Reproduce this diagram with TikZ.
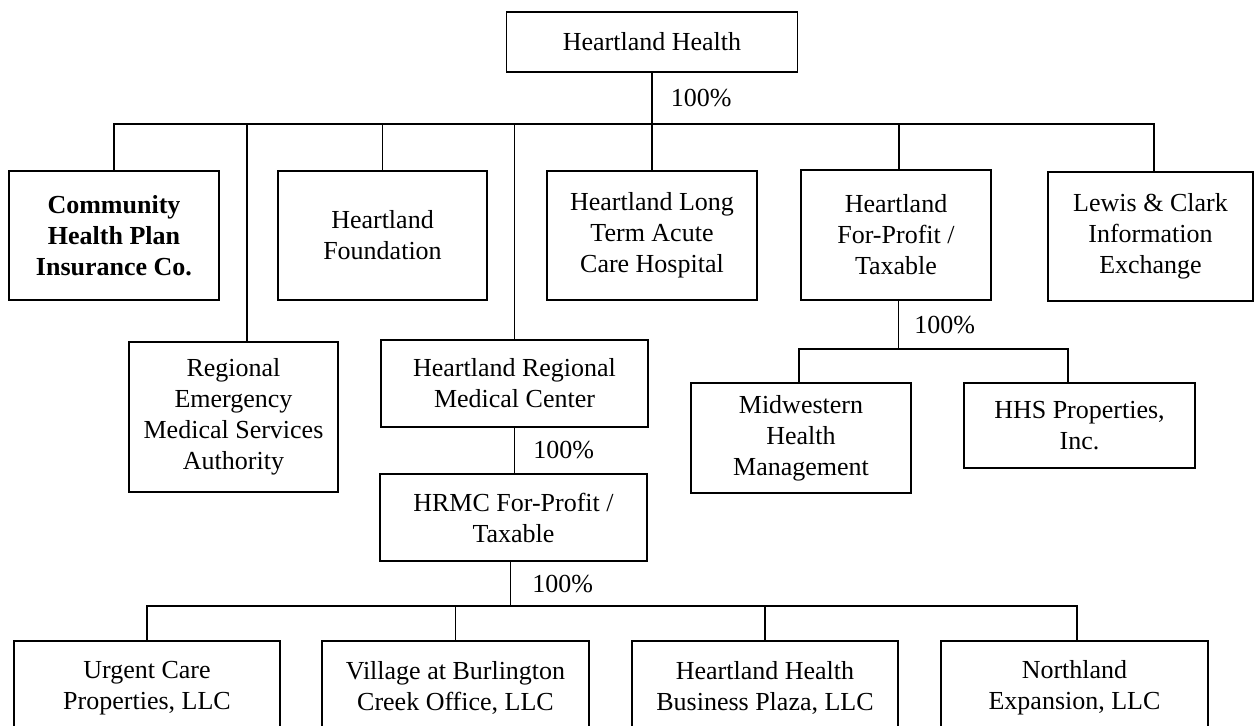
\documentclass[tikz,border=0pt]{standalone}
\usepackage{fontspec}
\setmainfont{Liberation Serif}

\begin{document}
\begin{tikzpicture}
[x=.5pt,y=-.5pt,
unit/.style={shape=rectangle,draw=black,line width=.8pt,align=center,inner sep=2pt,
  font=\fontsize{13}{15.5}\selectfont},
own/.style={line width=.75pt},
pct/.style={anchor=west,xshift=9pt,inner sep=0pt,font=\fontsize{13}{15.5}\selectfont}]
\clip (0,0) rectangle (1254,725);
%%
% Heartland Health and its direct holdings
%%
\node[unit,minimum width=145.5pt,minimum height=30pt] (hh) at (652,42) {Heartland Health};
\node[unit,minimum width=105pt,minimum height=64.5pt,font=\fontsize{13}{15.5}\selectfont\bfseries]
  (chp) at (114,235.5) {Community\\Health Plan\\Insurance Co.};
\node[unit,minimum width=104.5pt,minimum height=64.5pt] (found) at (382.5,235.5) {Heartland\\Foundation};
\node[unit,minimum width=105pt,minimum height=64.5pt] (ltac) at (652,235.5) {Heartland Long\\Term Acute\\Care Hospital};
\node[unit,minimum width=95pt,minimum height=65pt] (hfp) at (896,235) {Heartland\\For-Profit /\\Taxable};
\node[unit,minimum width=102.5pt,minimum height=64.5pt] (lce) at (1150.5,236.5) {Lewis \& Clark\\Information\\Exchange};
\node[unit,minimum width=104.5pt,minimum height=75pt] (rems) at (233.5,417) {Regional\\Emergency\\Medical Services\\Authority};
\node[unit,minimum width=133.5pt,minimum height=43.5pt] (hrmc) at (514.5,383.5) {Heartland Regional\\Medical Center};
\coordinate (bus1) at (652,124);
\draw[own] (hh.south) -- node[pct] {100\%} (bus1);
\draw[own] (bus1) -| (chp.north);
\draw[own] (bus1) -| ([xshift=6.75pt]rems.north);
\draw[own] (bus1) -| (found.north);
\draw[own] (bus1) -| (hrmc.north);
\draw[own] (bus1) -- (ltac.north);
\draw[own] (bus1) -| ([xshift=1.5pt]hfp.north);
\draw[own] (bus1) -| ([xshift=1.75pt]lce.north);
%%
% Heartland For-Profit
%%
\node[unit,minimum width=110pt,minimum height=55pt] (mhm) at (801,438) {Midwestern\\Health\\Management};
\node[unit,minimum width=115.5pt,minimum height=42.5pt] (hhs) at (1079.5,425.5) {HHS Properties,\\Inc.};
\coordinate (bus2) at (898.5,349);
\draw[own] ([xshift=1.25pt]hfp.south) -- node[pct,xshift=-1.5pt] {100\%} (bus2);
\draw[own] (bus2) -| ([xshift=-1pt]mhm.north);
\draw[own] (bus2) -| ([xshift=-5.75pt]hhs.north);
%%
% HRMC
%%
\node[unit,minimum width=133.5pt,minimum height=43.5pt] (hrmcfp) at (513.5,517.5) {HRMC For-Profit /\\Taxable};
\draw[own] (hrmc.south) -- node[pct] {100\%} (hrmc.south |- hrmcfp.north);
\node[unit,minimum width=133pt,minimum height=47pt] (ucp) at (147,688) {Urgent Care\\Properties, LLC};
\node[unit,minimum width=133.5pt,minimum height=47pt] (vbc) at (455.5,688) {Village at Burlington\\Creek Office, LLC};
\node[unit,minimum width=133pt,minimum height=47pt] (hhbp) at (765,688) {Heartland Health\\Business Plaza, LLC};
\node[unit,minimum width=133.5pt,minimum height=47pt] (nex) at (1074.5,688) {Northland\\Expansion, LLC};
\coordinate (bus3) at (510.5,606);
\draw[own] ([xshift=-1.5pt]hrmcfp.south) -- node[pct,xshift=1.5pt] {100\%} (bus3);
\draw[own] (bus3) -| (ucp.north);
\draw[own] (bus3) -| (vbc.north);
\draw[own] (bus3) -| (hhbp.north);
\draw[own] (bus3) -| ([xshift=1.25pt]nex.north);
\end{tikzpicture}
\end{document}
